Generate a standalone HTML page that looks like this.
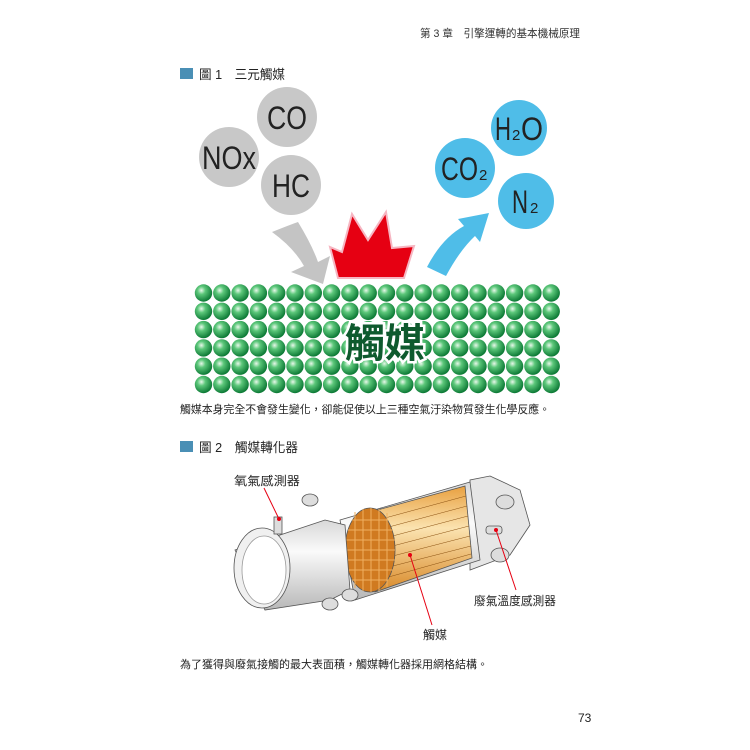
<!DOCTYPE html>
<html><head><meta charset="utf-8"><style>
body{margin:0;background:#fff;}
svg{display:block}
text{font-family:"Liberation Sans","Noto Sans CJK TC",sans-serif;}
.m{font-family:"Liberation Sans Narrow","Liberation Sans",sans-serif;}
</style></head><body>
<svg id="s" width="750" height="750" viewBox="0 0 750 750" xmlns="http://www.w3.org/2000/svg">
<defs>
<radialGradient id="g" cx="0.38" cy="0.35" r="0.65">
<stop offset="0" stop-color="#e8f8ea"/><stop offset="0.35" stop-color="#5cc77a"/><stop offset="1" stop-color="#0d7a36"/>
</radialGradient>
<linearGradient id="pipe" x1="0" y1="0" x2="0" y2="1">
<stop offset="0" stop-color="#d8d8d8"/><stop offset="0.35" stop-color="#fafafa"/><stop offset="1" stop-color="#b8b8b8"/>
</linearGradient>
<linearGradient id="cat" x1="0" y1="0" x2="0" y2="1">
<stop offset="0" stop-color="#e8a040"/><stop offset="0.4" stop-color="#fbe3b0"/><stop offset="1" stop-color="#d98a2a"/>
</linearGradient>
</defs>
<text x="420" y="37" font-size="11" fill="#333" textLength="160" lengthAdjust="spacingAndGlyphs">第 3 章　引擎運轉的基本機械原理</text>
<rect x="180" y="68" width="13" height="11" fill="#4a8fb5"/>
<text x="199" y="79" font-size="13" fill="#222" textLength="86" lengthAdjust="spacingAndGlyphs">圖 1　三元觸媒</text>

<circle cx="287" cy="117" r="30" fill="#c8c8c8"/>
<circle cx="229" cy="157" r="30" fill="#c8c8c8"/>
<circle cx="291" cy="185" r="30" fill="#c8c8c8"/>
<text class="m" x="287" y="129" font-size="32" text-anchor="middle" fill="#222" textLength="40" lengthAdjust="spacingAndGlyphs">CO</text>
<text class="m" x="229" y="169" font-size="32" text-anchor="middle" fill="#222" textLength="54" lengthAdjust="spacingAndGlyphs">NOx</text>
<text class="m" x="291" y="197" font-size="32" text-anchor="middle" fill="#222" textLength="38" lengthAdjust="spacingAndGlyphs">HC</text>

<circle cx="519" cy="128" r="28" fill="#4fbde8"/>
<circle cx="465" cy="168" r="30" fill="#4fbde8"/>
<circle cx="526" cy="201" r="28" fill="#4fbde8"/>
<text class="m" x="495" y="140" font-size="32" fill="#222" textLength="16" lengthAdjust="spacingAndGlyphs">H</text><text class="m" x="512" y="140" font-size="15" fill="#222">2</text><text class="m" x="521" y="140" font-size="32" fill="#222" textLength="22" lengthAdjust="spacingAndGlyphs">O</text>
<text class="m" x="441" y="180" font-size="32" fill="#222" textLength="37" lengthAdjust="spacingAndGlyphs">CO</text><text class="m" x="479" y="180" font-size="15" fill="#222">2</text>
<text class="m" x="512" y="213" font-size="32" fill="#222" textLength="16" lengthAdjust="spacingAndGlyphs">N</text><text class="m" x="530" y="213" font-size="15" fill="#222">2</text>

<path d="M272,232 Q292,224 298,222 Q312,245 318,262 L330,256 L323,284 L291,272 L304,266 Q294,248 272,232 Z" fill="#c4c4c4"/>
<polygon points="330,247 342,252 352,214 368,240 386,212 392,248 414,246 404,278 338,278" fill="#e60012" stroke="#f6b6c2" stroke-width="2"/>
<path d="M427,267 Q442,238 464,226 L458,219 L489,213 L480,242 L475,236 Q460,250 446,276 Z" fill="#4fbde8"/>

<g id="sph"></g>
<text x="385" y="357" font-size="40" font-weight="bold" text-anchor="middle" fill="#0e5a2e" stroke="#fff" stroke-width="5" paint-order="stroke" font-family="Noto Sans CJK TC,sans-serif">觸媒</text>

<text x="180" y="413" font-size="11" fill="#222" textLength="370" lengthAdjust="spacingAndGlyphs">觸媒本身完全不會發生變化，卻能促使以上三種空氣汙染物質發生化學反應。</text>
<rect x="180" y="441" width="13" height="11" fill="#4a8fb5"/>
<text x="199" y="452" font-size="13" fill="#222" textLength="99" lengthAdjust="spacingAndGlyphs">圖 2　觸媒轉化器</text>

<!-- converter -->
<g stroke="#555" stroke-width="0.8">
<path d="M490,476 L520,490 L530,525 L510,555 L470,570 L470,480 Z" fill="#e6e6e6"/>
<ellipse cx="505" cy="502" rx="9" ry="7" fill="#ddd"/>
<ellipse cx="500" cy="555" rx="9" ry="7" fill="#ddd"/>
<path d="M340,520 L470,482 L480,560 L355,600 Z" fill="url(#pipe)"/>
<path d="M370,512 L465,486 L472,558 L375,592 Z" fill="url(#cat)"/>
<g stroke="#8a5010" stroke-width="0.5">
<line x1="385" y1="518" x2="466" y2="496"/><line x1="385" y1="528" x2="467" y2="506"/><line x1="385" y1="538" x2="468" y2="516"/><line x1="385" y1="548" x2="469" y2="526"/><line x1="385" y1="558" x2="470" y2="536"/><line x1="385" y1="568" x2="471" y2="546"/><line x1="385" y1="578" x2="471" y2="554"/>
</g>
<ellipse cx="370" cy="550" rx="25" ry="42" fill="#d07a20"/>
<g stroke="#f0b060" stroke-width="1">
<path d="M352,520 L388,520 M348,530 L393,530 M346,540 L395,540 M346,550 L395,550 M346,560 L395,560 M348,570 L393,570 M352,580 L388,580 M355,512 L355,588 M363,509 L363,591 M371,508 L371,592 M379,509 L379,591 M387,513 L387,587"/>
</g>
<path d="M235,550 L325,520 L345,525 L350,590 L330,600 L265,610 Z" fill="url(#pipe)"/>
<ellipse cx="262" cy="568" rx="28" ry="40" fill="#f0f0f0"/>
<ellipse cx="264" cy="570" rx="22" ry="34" fill="#fff" stroke="#999"/>
<ellipse cx="310" cy="500" rx="8" ry="6" fill="#ddd"/>
<ellipse cx="350" cy="595" rx="8" ry="6" fill="#ddd"/>
<ellipse cx="330" cy="604" rx="8" ry="6" fill="#ddd"/>
<rect x="274" y="517" width="8" height="17" fill="#ddd"/>
<rect x="486" y="526" width="16" height="8" rx="3" fill="#ddd"/>
</g>
<g stroke="#e60012" stroke-width="1" fill="#e60012">
<line x1="264" y1="488" x2="279" y2="519"/><circle cx="279" cy="519" r="1.5"/>
<line x1="496" y1="530" x2="516" y2="590"/><circle cx="496" cy="530" r="1.5"/>
<line x1="410" y1="555" x2="432" y2="625"/><circle cx="410" cy="555" r="1.5"/>
</g>
<text x="234" y="485" font-size="12" fill="#222" textLength="66" lengthAdjust="spacingAndGlyphs">氧氣感測器</text>
<text x="474" y="605" font-size="12" fill="#222" textLength="82" lengthAdjust="spacingAndGlyphs">廢氣溫度感測器</text>
<text x="423" y="639" font-size="12" fill="#222">觸媒</text>

<text x="180" y="668" font-size="11" fill="#222" textLength="308" lengthAdjust="spacingAndGlyphs">為了獲得與廢氣接觸的最大表面積，觸媒轉化器採用網格結構。</text>
<text x="578" y="722" font-size="12" fill="#222" font-family="Liberation Serif,serif">73</text>
</svg>
<script>
var g=document.getElementById('sph'),h='';
for(var r=0;r<6;r++)for(var c=0;c<20;c++){h+='<circle cx="'+(203.5+c*18.3).toFixed(1)+'" cy="'+(293+r*18.3).toFixed(1)+'" r="8.7" fill="url(#g)"/>';}
g.innerHTML=h;
</script>
</body></html>
